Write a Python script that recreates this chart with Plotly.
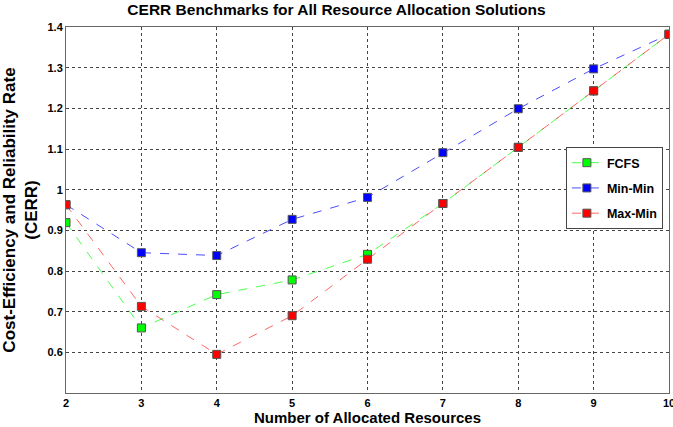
import plotly.graph_objects as go

resources = [2, 3, 4, 5, 6, 7, 8, 9, 10]
fcfs = [0.919, 0.660, 0.742, 0.778, 0.841, 0.966, 1.104, 1.243, 1.382]
min_min = [0.963, 0.845, 0.838, 0.927, 0.981, 1.091, 1.199, 1.297, 1.382]
max_min = [0.963, 0.713, 0.595, 0.690, 0.829, 0.966, 1.104, 1.243, 1.382]
y_ticks = [0.6, 0.7, 0.8, 0.9, 1.0, 1.1, 1.2, 1.3, 1.4]
y_labels = ["0.6", "0.7", "0.8", "0.9", "1", "1.1", "1.2", "1.3", "1.4"]

FONT = "Liberation Sans, Arial, sans-serif"

series = [
    ("FCFS", fcfs, "#00ff00", "rgba(0,255,0,0.7)"),
    ("Min-Min", min_min, "#0000ff", "rgba(0,0,255,0.7)"),
    ("Max-Min", max_min, "#ff0000", "rgba(255,0,0,0.6)"),
]

fig = go.Figure()
for name, vals, mc, lc in series:
    fig.add_trace(go.Scatter(
        x=resources, y=vals, name=name, mode="lines+markers",
        legendgroup=name,
        line=dict(color=lc, width=1, dash="dash"),
        marker=dict(symbol="square", size=8, color=mc,
                    line=dict(color="#555555", width=1)),
    ))

fig.update_layout(
    width=673, height=427,
    margin=dict(l=66, r=4, t=27, b=34),
    paper_bgcolor="white", plot_bgcolor="white",
    font=dict(family=FONT, color="black"),
    title=dict(text="CERR Benchmarks for All Resource Allocation Solutions",
               x=0.5, xanchor="center", y=0.99, yanchor="top",
               font=dict(size=15.5, family=FONT, weight="bold")),
    legend=dict(x=0.829, y=0.672, xanchor="left", yanchor="top",
                bgcolor="white", bordercolor="#444444", borderwidth=1,
                font=dict(size=12.5, family=FONT, weight="bold"),
                itemwidth=30, tracegroupgap=6),
    showlegend=True,
)
fig.update_xaxes(
    range=[2, 10], tickvals=resources, ticktext=[str(r) for r in resources],
    showgrid=True, gridcolor="#444444", griddash="dot", gridwidth=1,
    showline=True, linecolor="#666666", linewidth=1, mirror=True,
    ticks="", tickfont=dict(size=11, family=FONT, weight="bold"),
    ticklabeloverflow="allow",
    zeroline=False, automargin=False,
    title=dict(text="Number of Allocated Resources", standoff=2,
               font=dict(size=15, family=FONT, weight="bold")),
)
fig.update_yaxes(
    range=[0.5, 1.4], tickvals=y_ticks, ticktext=y_labels,
    showgrid=True, gridcolor="#444444", griddash="dot", gridwidth=1,
    showline=True, linecolor="#666666", linewidth=1, mirror=True,
    ticks="", tickfont=dict(size=11, family=FONT, weight="bold"),
    zeroline=False, automargin=False,
    title=dict(text="Cost-Efficiency and Reliability Rate<br>(CERR)", standoff=8,
               font=dict(size=17, family=FONT, weight="bold")),
)

fig.write_html("out.html", config={"displayModeBar": False},
               post_script="document.body.style.margin='0';")
